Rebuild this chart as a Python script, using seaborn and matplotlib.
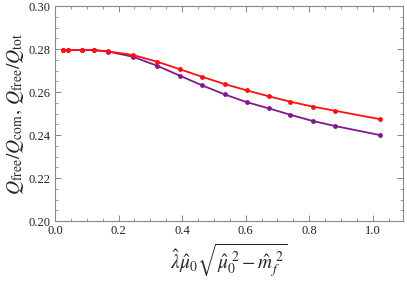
import numpy as np
import pandas as pd
import seaborn as sns
import matplotlib
matplotlib.use("Agg")
import matplotlib.pyplot as plt
from matplotlib.ticker import MultipleLocator

# values
x = [0.026, 0.040, 0.084, 0.124, 0.168, 0.246, 0.322, 0.393, 0.463,
     0.534, 0.603, 0.673, 0.741, 0.812, 0.881, 1.022]
ratio_com = [0.2795, 0.2795, 0.2795, 0.2795, 0.2789, 0.2772, 0.2741, 0.2706,
             0.2671, 0.2637, 0.2608, 0.2580, 0.2555, 0.2532, 0.2513, 0.2474]
ratio_tot = [0.2795, 0.2795, 0.2795, 0.2795, 0.2788, 0.2764, 0.2722, 0.2676,
             0.2631, 0.2589, 0.2553, 0.2524, 0.2494, 0.2465, 0.2442, 0.2400]

df = pd.DataFrame({
    "x": x * 2,
    "y": ratio_com + ratio_tot,
    "series": ["com"] * len(x) + ["tot"] * len(x),
})

sns.set_theme(style="ticks")
plt.rcParams["font.family"] = ["Liberation Serif", "DejaVu Serif"]
plt.rcParams["mathtext.fontset"] = "stix"

fig = plt.figure(figsize=(4.07, 2.81), dpi=100)
ax = fig.add_axes([0.135, 0.2135, 0.855, 0.765])

palette = {"com": "#ff1010", "tot": "#7f1a8c"}
sns.lineplot(data=df, x="x", y="y", hue="series", hue_order=["tot", "com"],
             palette=palette, marker="o", markersize=3.5, markeredgewidth=0,
             linewidth=1.3, legend=False, ax=ax)

ax.set_xlim(0, 1.095)
ax.set_ylim(0.20, 0.30)
ax.xaxis.set_major_locator(MultipleLocator(0.2))
ax.xaxis.set_minor_locator(MultipleLocator(0.05))
ax.yaxis.set_major_locator(MultipleLocator(0.02))
ax.yaxis.set_minor_locator(MultipleLocator(0.005))
ax.xaxis.set_major_formatter(plt.FuncFormatter(lambda v, p: f"{v:.1f}"))
ax.yaxis.set_major_formatter(plt.FuncFormatter(lambda v, p: f"{v:.2f}"))
ax.tick_params(which="both", direction="in", top=True, right=True,
               color="#888888", labelsize=9, labelcolor="#222222")
ax.tick_params(axis="x", pad=3)
ax.tick_params(axis="y", pad=3)
ax.tick_params(which="major", length=4, width=0.7)
ax.tick_params(which="minor", length=2, width=0.6)
for s in ax.spines.values():
    s.set_color("#888888")
    s.set_linewidth(0.8)

ax.set_xlabel(r"$\hat{\lambda}\hat{\mu}_0\sqrt{\hat{\mu}_0^{\ 2}-\hat{m}_f^{\ 2}}$",
              fontsize=14, labelpad=3)
ax.set_ylabel(r"$Q_{\rm free}/Q_{\rm com},\,Q_{\rm free}/Q_{\rm tot}$",
              fontsize=14, labelpad=2)

fig.savefig("out.png", dpi=100)
